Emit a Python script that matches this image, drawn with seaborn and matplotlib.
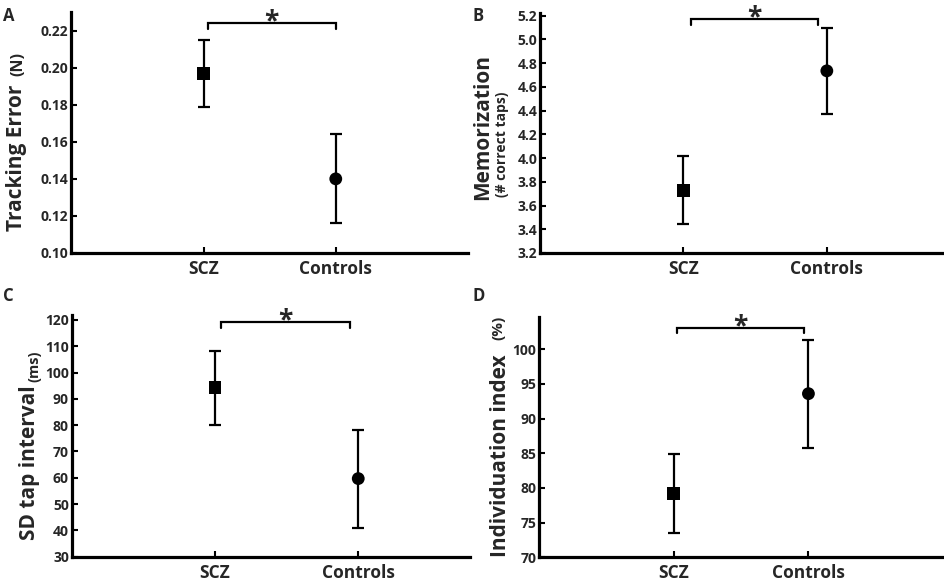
import matplotlib
matplotlib.use("Agg")
import matplotlib.pyplot as plt
import seaborn as sns
import pandas as pd

# ---------------- data ----------------
groups = ["SCZ", "Controls"]
group_pos = [1, 2]
group_markers = {"SCZ": "s", "Controls": "o"}

tracking_mean = [0.197, 0.140]
tracking_err = [0.018, 0.024]
tracking_ticks = [0.10, 0.12, 0.14, 0.16, 0.18, 0.20, 0.22]

memo_mean = [3.73, 4.735]
memo_err = [0.285, 0.36]
memo_ticks = [3.2, 3.4, 3.6, 3.8, 4.0, 4.2, 4.4, 4.6, 4.8, 5.0, 5.2]

sdtap_mean = [94.2, 59.7]
sdtap_err = [14.0, 18.6]
sdtap_ticks = [30, 40, 50, 60, 70, 80, 90, 100, 110, 120]

indiv_mean = [79.2, 93.6]
indiv_err = [5.75, 7.8]
indiv_ticks = [70, 75, 80, 85, 90, 95, 100]

# significance brackets: x-start, x-end, height, drop
tracking_bracket = [1.03, 2.0, 0.224, 0.003]
memo_bracket = [1.05, 1.94, 5.172, 0.05]
sdtap_bracket = [1.04, 1.94, 119.1, 2.3]
indiv_bracket = [1.02, 1.97, 103.1, 0.8]

# ---------------- style ----------------
sns.set_style("ticks")
plt.rcParams["font.family"] = ["Open Sans", "DejaVu Sans"]
plt.rcParams["font.weight"] = "bold"

W, H = 945, 582
fig = plt.figure(figsize=(W / 100, H / 100), dpi=100)


def px_rect(left, right, top, bottom):
    return [left / W, 1 - bottom / H, (right - left) / W, (bottom - top) / H]


panels = [
    dict(letter="A", rect=px_rect(71.3, 468, 12, 253), mean=tracking_mean, err=tracking_err,
         ticks=tracking_ticks, fmt="{:.2f}", ylim=(0.10, 0.23), xlim=(0, 3.0),
         bracket=tracking_bracket, letter_xy=(3, 7),
         label=("Tracking Error", 16.7, 231), unit=("(N)", 18.4, 76, 11.5)),
    dict(letter="B", rect=px_rect(540, 943, 12.7, 253), mean=memo_mean, err=memo_err,
         ticks=memo_ticks, fmt="{:.1f}", ylim=(3.2, 5.225), xlim=(0, 2.81),
         bracket=memo_bracket, letter_xy=(473, 7),
         label=("Memorization", 482.7, 200), unit=("(# correct taps)", 502.5, 197, 10)),
    dict(letter="C", rect=px_rect(71.7, 470, 315, 556.7), mean=sdtap_mean, err=sdtap_err,
         ticks=sdtap_ticks, fmt="{:.0f}", ylim=(30, 121.9), xlim=(0, 2.78),
         bracket=sdtap_bracket, letter_xy=(3, 287),
         label=("SD tap interval", 30, 540), unit=("(ms)", 34, 382, 10.5)),
    dict(letter="D", rect=px_rect(539.3, 943, 316.7, 557.3), mean=indiv_mean, err=indiv_err,
         ticks=indiv_ticks, fmt="{:.0f}", ylim=(70, 104.7), xlim=(0, 3.0),
         bracket=indiv_bracket, letter_xy=(473, 287),
         label=("Individuation index", 501, 557), unit=("(%)", 498, 340, 11)),
]

for p in panels:
    ax = fig.add_axes(p["rect"])
    df = pd.DataFrame({"group": groups, "pos": group_pos, "mean": p["mean"], "err": p["err"]})

    ax.errorbar(df["pos"], df["mean"], yerr=df["err"], fmt="none", ecolor="black",
                elinewidth=1.6, capsize=4.5, capthick=1.6, zorder=2)
    sns.scatterplot(data=df, x="pos", y="mean", style="group", markers=group_markers,
                    color="black", s=85, linewidth=0, legend=False, ax=ax, zorder=3)

    ax.set_xlim(*p["xlim"])
    ax.set_ylim(*p["ylim"])
    ax.set_xticks(group_pos)
    ax.set_xticklabels(groups, fontsize=12.5, fontweight="bold")
    ax.set_yticks(p["ticks"])
    ax.set_yticklabels([p["fmt"].format(t) for t in p["ticks"]], fontsize=10, fontweight="bold")
    ax.set_xlabel("")
    ax.set_ylabel("")
    sns.despine(ax=ax)
    for side in ("left", "bottom"):
        ax.spines[side].set_linewidth(2.3)
        ax.spines[side].set_color("black")
    ax.tick_params(axis="both", direction="in", length=4, width=1.5, color="black")
    ax.tick_params(axis="x", pad=5)
    ax.tick_params(axis="y", pad=2)

    x0, x1, by, drop = p["bracket"]
    ax.plot([x0, x0, x1, x1], [by - drop, by, by, by - drop], color="black", lw=1.6,
            clip_on=False, solid_joinstyle="miter")
    ax.annotate("*", xy=((x0 + x1) / 2, by), xytext=(0, -4.5), textcoords="offset points",
                ha="center", va="baseline", fontsize=19, fontweight="bold",
                annotation_clip=False)

    lx, ly = p["letter_xy"]
    fig.text(lx / W, 1 - ly / H, p["letter"], fontsize=12, fontweight="bold",
             ha="left", va="top")

    t, tx, ty = p["label"]
    fig.text(tx / W, 1 - ty / H, t, rotation=90, fontsize=15, fontweight="bold",
             ha="center", va="bottom")
    u, ux, uy, us = p["unit"]
    fig.text(ux / W, 1 - uy / H, u, rotation=90, fontsize=us, fontweight="bold",
             ha="center", va="bottom")

fig.savefig("out.png", dpi=100)
